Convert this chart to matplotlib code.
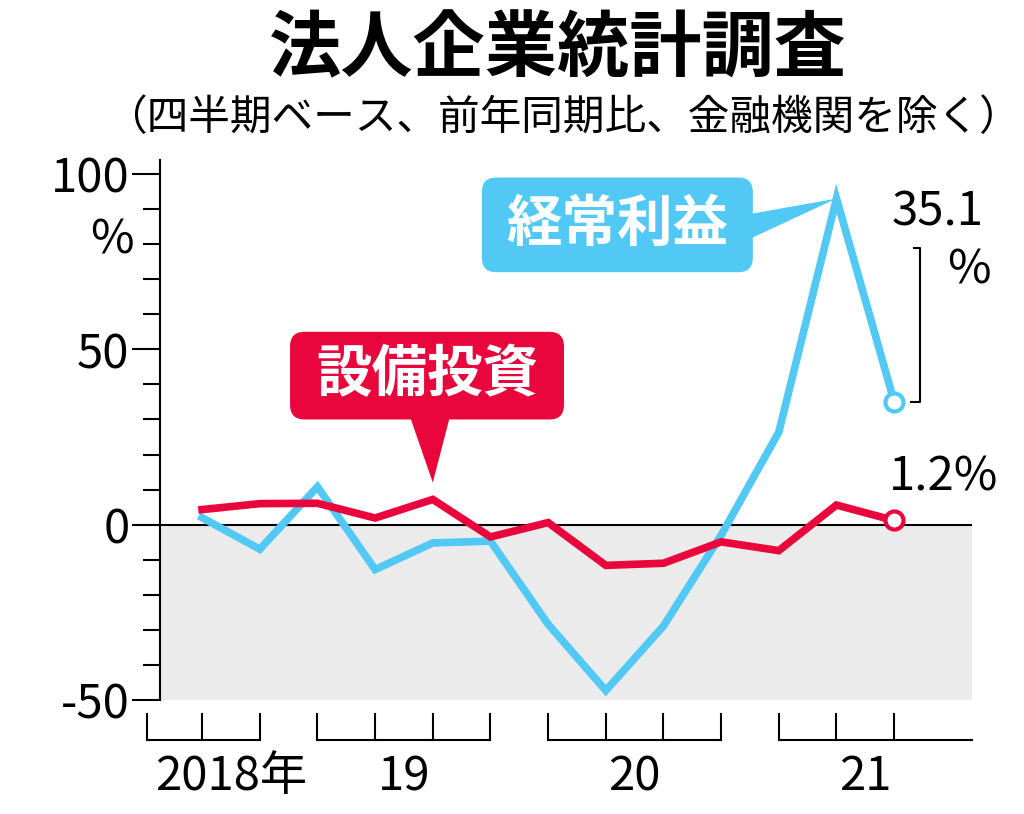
import numpy as np
import matplotlib.pyplot as plt
from matplotlib.patches import FancyBboxPatch

plt.rcParams['font.family'] = 'Noto Sans CJK JP'

# quarters 2018Q2 .. 2021Q2
quarters = np.arange(13)
keijo = [2.0, -7.0, 10.8, -12.8, -5.2, -4.7, -28.4, -47.3, -28.9, -3.0, 26.4, 93.0, 35.1]
setsubi = [4.3, 6.0, 6.1, 1.9, 7.2, -3.5, 0.6, -11.6, -11.0, -4.9, -7.4, 5.6, 1.2]
yticks = [-50, 0, 50, 100]
year_labels = ['2018年', '19', '20', '21']
year_label_x = [0.5, 3.5, 7.5, 11.5]
brackets = [(-0.95, 1, [-0.95, 0, 1]), (2, 5, [2, 3, 4, 5]), (6, 9, [6, 7, 8, 9]), (10, 13.35, [10, 11, 12])]

blue = '#52C8F5'
red = '#E8063C'

fig = plt.figure(figsize=(10.24, 8.14), dpi=100)
ax = fig.add_axes([160/1024, 114/814, 812/1024, 540/814])
ax.set_xlim(-0.73, 13.35)
ax.set_ylim(-50, 104)

ax.axhspan(-50, 0, color='#EBEBEB', zorder=0)
ax.axhline(0, color='black', lw=1.5, zorder=1)
ax.plot(quarters, keijo, color=blue, lw=5.5, solid_joinstyle='miter', zorder=3)
ax.plot(quarters, setsubi, color=red, lw=5.5, solid_joinstyle='miter', zorder=4)
ax.plot(quarters[-1], keijo[-1], 'o', ms=13, mfc='white', mec=blue, mew=3, zorder=5)
ax.plot(quarters[-1], setsubi[-1], 'o', ms=13, mfc='white', mec=red, mew=3, zorder=5)

for s in ['top', 'right', 'bottom']:
    ax.spines[s].set_visible(False)
ax.spines['left'].set_linewidth(1.5)
ax.set_xticks([])
ax.set_yticks(yticks)
ax.set_yticklabels(['-50', '0', '50', '100'], fontsize=34)
ax.set_yticks(np.arange(-50, 101, 10), minor=True)
ax.tick_params(axis='y', which='major', length=20, width=1.5, pad=2)
ax.tick_params(axis='y', which='minor', length=12, width=1.5)
fig.text(112/1024, 1 - 240/814, '%', fontsize=34, ha='center', va='center')

# year brackets under the axis
for x0, x1, ticks in brackets:
    ax.plot([x0, x1], [-61.5, -61.5], color='black', lw=1.5, clip_on=False)
    for t in ticks:
        ax.plot([t, t], [-61.5, -54], color='black', lw=1.5, clip_on=False)
for lab, x in zip(year_labels, year_label_x):
    ax.text(x, -72, lab, fontsize=34, ha='center', va='center')

# label boxes
def label_box(cx, cy, w, h, text, color, tip):
    box = FancyBboxPatch((cx - w/2, cy - h/2), w, h, boxstyle='round,pad=0,rounding_size=0.25',
                         mutation_aspect=16.7, fc=color, ec='none', zorder=6)
    ax.add_patch(box)
    ax.text(cx, cy, text, fontsize=40, fontweight='bold', color='white', ha='center', va='center', zorder=7)
    ax.fill([tip[0][0], tip[1][0], tip[2][0]], [tip[0][1], tip[1][1], tip[2][1]], color=color, ec='none', zorder=6)

label_box(7.2, 85.5, 4.7, 27, '経常利益', blue, [(9.3, 88), (9.3, 80), (11.0, 93)])
label_box(3.9, 42.5, 4.75, 25, '設備投資', red, [(3.6, 31), (4.3, 31), (4.0, 12)])

ax.text(12.75, 89, '35.1', fontsize=34, ha='center', va='center')
ax.text(13.3, 72.5, '%', fontsize=34, ha='center', va='center')
ax.plot([12.3, 12.45, 12.45, 12.35], [35.1, 35.1, 79, 79], color='black', lw=1.5)
ax.text(12.85, 13.5, '1.2%', fontsize=34, ha='center', va='center')

fig.text(0.545, 1 - 50/814, '法人企業統計調査', fontsize=52, fontweight='bold', ha='center', va='center')
fig.text(0.55, 1 - 118/814, '（四半期ベース、前年同期比、金融機関を除く）', fontsize=30, ha='center', va='center')

fig.savefig('out.png', dpi=100)
